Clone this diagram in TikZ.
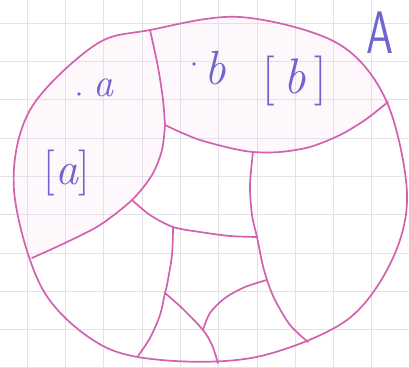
\documentclass[tikz,border=0pt]{standalone}
\definecolor{pen}{RGB}{210,98,176}
\definecolor{ink}{RGB}{112,100,208}
\definecolor{gridc}{RGB}{226,226,232}
\definecolor{tint}{RGB}{254,247,252}
\tikzset{
  part/.style={draw=pen, line width=1.7pt, line cap=round, line join=round},
  lbl/.style={text=ink, inner sep=0pt},
  outline/.style={smooth cycle, tension=0.55},
}
\begin{document}
\begin{tikzpicture}[x=1pt,y=-1pt]
\useasboundingbox (0,0) rectangle (409,367);
\fill[white] (0,0) rectangle (409,367);
% light tint of the two top classes
\begin{scope}
\clip plot[outline] coordinates {(150,30) (240,17) (337,43) (386,100) (407,193) (392,260) (347,320) (261,356) (175,361) (103,346) (43,290) (14,190) (30,110) (95,45)};
\fill[tint] (-20,-20) -- plot[smooth] coordinates {(150,30) (158,67) (163,100) (165,125)} -- plot[smooth] coordinates {(165,125) (162,150) (152,175) (132,200) (100,225) (67,242) (32,258)} -- (-20,258) -- cycle;
\fill[tint] (140,-20) -- (430,-20) -- (430,102) -- plot[smooth] coordinates {(388,102) (365,120) (340,135) (310,147) (280,152) (253,152) (230,148) (200,140) (180,132) (165,125)} -- plot[smooth] coordinates {(165,125) (163,100) (158,67) (150,30)} -- cycle;
\end{scope}
% grid paper
\foreach \i in {0,...,10} {
  \draw[gridc, line width=0.6pt] ({27+38.3*\i},0) -- ({27+38.3*\i},367);
  \draw[gridc, line width=0.6pt] (0,{23+38.3*\i}) -- (409,{23+38.3*\i});
}
% outer set A
\draw[part] plot[outline] coordinates {(150,30) (240,17) (337,43) (386,100) (407,193) (392,260) (347,320) (261,356) (175,361) (103,346) (43,290) (14,190) (30,110) (95,45)};
% junctions
\coordinate (J1) at (165,125);
\coordinate (J2) at (132,200);
\coordinate (J3) at (253,152);
\coordinate (J4) at (173,227);
\coordinate (J5) at (257,237);
\coordinate (J6) at (267,280);
\coordinate (J7) at (165,293);
\coordinate (J8) at (203,330);
% dividers
\draw[part] plot[smooth] coordinates {(150,30) (158,67) (163,100) (165,125)};
\draw[part] plot[smooth] coordinates {(165,125) (162,150) (152,175) (132,200) (100,225) (67,242) (32,258)};
\draw[part] plot[smooth] coordinates {(165,125) (180,132) (200,140) (230,148) (253,152) (280,152) (310,147) (340,135) (365,120) (388,102)};
\draw[part] plot[smooth] coordinates {(132,200) (150,215) (173,227) (200,232) (230,236) (257,237)};
\draw[part] plot[smooth] coordinates {(253,152) (250,185) (252,215) (257,237) (262,262) (267,280) (275,300) (290,325) (308,342)};
\draw[part] plot[smooth] coordinates {(173,227) (172,255) (167,285) (165,293) (160,315) (150,338) (138,356)};
\draw[part] plot[smooth] coordinates {(165,293) (183,309) (203,330) (212,345) (218,363)};
\draw[part] plot[smooth] coordinates {(203,330) (210,313) (225,298) (245,287) (267,280)};
% labels
\fill[ink] (79,94) circle (1.9pt);
\node[lbl, font=\fontsize{40}{40}\selectfont\itshape] (a) at (103,88) {a};
\fill[ink] (194,64) circle (1.9pt);
\node[lbl, font=\fontsize{48}{48}\selectfont\itshape] (b) at (215,68) {b};
\node[lbl, font=\fontsize{50}{50}\selectfont] (cb) at (295,81) {[\,\textit{b}\,]};
\node[lbl, font=\fontsize{46}{46}\selectfont] (ca) at (67,173) {[\textit{a}]};
\node[lbl, font=\fontsize{60}{60}\selectfont\sffamily, xscale=0.72] (A) at (380,33) {A};
\end{tikzpicture}
\end{document}
